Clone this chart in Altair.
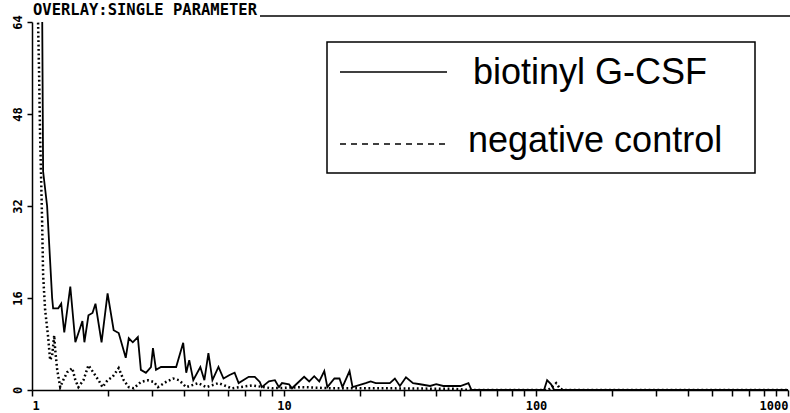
import altair as alt
import pandas as pd

# ---- data ----
solid_x = [1.086, 1.096, 1.107, 1.148, 1.202, 1.213, 1.271, 1.306, 1.343, 1.419,
           1.486, 1.585, 1.614, 1.675, 1.738, 1.786, 1.888, 1.995, 2.109, 2.208,
           2.355, 2.421, 2.512, 2.630, 2.704, 2.831, 2.965, 3.020, 3.105, 3.251,
           3.733, 3.981, 4.093, 4.207, 4.365, 4.656, 4.831, 5.012, 5.200, 5.495,
           5.754, 6.081, 6.368, 6.607, 7.244, 7.656, 8.017, 8.166, 8.710, 9.204,
           9.550, 9.817, 10.47, 10.76, 12.02, 12.59, 13.18, 13.80, 14.45, 14.86,
           15.85, 16.60, 17.06, 18.20, 18.71, 21.09, 22.08, 23.12, 24.66, 26.30,
           27.54, 28.84, 30.48, 32.51, 34.67, 38.02, 40.18, 42.85, 46.99, 50.12,
           53.95, 55.46, 107.6, 110.7, 114.8, 118.0, 1000]
solid_y = [70, 70, 38, 32, 16, 14.2, 14.2, 15, 10, 18,
           8.3, 12, 8.3, 13, 13.4, 15, 8.3, 16.8, 10.4, 9.9,
           5.6, 9, 8.3, 9.2, 3.5, 3, 4, 7.3, 3.5, 4,
           4, 8.2, 3, 5.2, 1.7, 4, 1.7, 6.4, 1.7, 4,
           2, 2.6, 3, 1.2, 2.3, 2.3, 1.4, 0.5, 1.5, 1.7,
           0.5, 1.2, 1, 0.3, 2.3, 1.5, 2.4, 1.5, 3.3, 0.5,
           2, 2, 0.5, 3.3, 0.5, 1.2, 1.5, 1.2, 1.2, 1.2,
           2, 0.7, 2.2, 1.2, 1, 0.7, 1, 0.7, 0.7, 0.7,
           1.2, 0, 0, 1.7, 1, 0, 0]

control_x = [1.038, 1.057, 1.067, 1.076, 1.096, 1.107, 1.127, 1.159, 1.180, 1.202,
             1.225, 1.236, 1.259, 1.294, 1.330, 1.380, 1.445, 1.486, 1.528, 1.600,
             1.675, 1.754, 1.837, 1.905, 1.995, 2.089, 2.208, 2.312, 2.421, 2.535,
             2.704, 2.884, 3.048, 3.162, 3.404, 3.631, 3.837, 4.093, 4.571, 4.920,
             5.495, 6.194, 7.447, 8.954, 11.80, 15.56, 24.66, 46.99, 55.0, 112.0,
             120.2, 124.7, 130.0, 1000]
control_y = [70, 64, 55, 45, 30, 20, 14, 9.2, 5.2, 6,
             9.5, 7, 3.5, 0.5, 1.7, 3.1, 3.8, 1.7, 0.5, 1.7,
             4.3, 3, 1.7, 0.5, 1.7, 2.3, 3.8, 1.7, 0.5, 0.3,
             1.4, 1.7, 1.4, 0.5, 1.4, 2, 1.7, 0.5, 1.2, 0.5,
             1.2, 0.3, 0.8, 0.3, 0.5, 0.3, 0.3, 0.2, 0, 0,
             1.2, 0.2, 0, 0]

x_ticks = [1, 2, 3, 4, 5, 6, 7, 8, 9, 10, 20, 30, 40, 50, 60, 70, 80, 90,
           100, 200, 300, 400, 500, 600, 700, 800, 900, 1000]
y_ticks = [0, 16, 32, 48, 64]
title_text = "OVERLAY:SINGLE PARAMETER"
legend_labels = ["biotinyl G-CSF", "negative control"]

solid_df = pd.DataFrame({"x": solid_x, "y": solid_y})
control_df = pd.DataFrame({"x": control_x, "y": control_y})

mono = "DejaVu Sans Mono"

xscale = alt.Scale(type="log", domain=[1, 1000], nice=False)
yscale = alt.Scale(domain=[0, 64], nice=False)

xaxis = alt.Axis(
    values=x_ticks, title=None, grid=False,
    labelExpr="(datum.value==1||datum.value==10||datum.value==100||datum.value==1000) ? format(datum.value,'d') : ''",
    labelFont=mono, labelFontWeight="bold", labelFontSize=12, labelColor="black",
    tickColor="black", tickSize=6, tickWidth=1.5, domainColor="black", domainWidth=1.5,
    labelPadding=4, labelFlush=True,
)
yaxis = alt.Axis(
    values=y_ticks, title=None, grid=False, labelAngle=270,
    labelFont=mono, labelFontWeight="bold", labelFontSize=12, labelColor="black",
    tickColor="black", tickSize=5, tickWidth=1.5, domainColor="black", domainWidth=1.5,
    labelPadding=3, labelFlush=True,
)

solid = alt.Chart(solid_df).mark_line(color="black", strokeWidth=1.8, clip=True).encode(
    x=alt.X("x:Q", scale=xscale, axis=xaxis),
    y=alt.Y("y:Q", scale=yscale, axis=yaxis),
)
control = alt.Chart(control_df).mark_line(
    color="black", strokeWidth=2.5, strokeDash=[1.8, 2.6], clip=True
).encode(
    x=alt.X("x:Q", scale=xscale),
    y=alt.Y("y:Q", scale=yscale),
)

one = pd.DataFrame({"k": [0]})

title = alt.Chart(pd.DataFrame({"t": [title_text]})).mark_text(
    font=mono, fontWeight="bold", fontSize=15.5, align="left", baseline="alphabetic", color="black"
).encode(text="t:N", x=alt.value(1), y=alt.value(-7))
underline = alt.Chart(one).mark_rule(color="black", strokeWidth=1.5).encode(
    x=alt.value(228), x2=alt.value(758), y=alt.value(-6)
)

box = alt.Chart(one).mark_rect(fill="white", stroke="black", strokeWidth=1.5).encode(
    x=alt.value(295), x2=alt.value(723), y=alt.value(20), y2=alt.value(151)
)
leg_solid = alt.Chart(one).mark_rule(color="black", strokeWidth=1.5).encode(
    x=alt.value(308), x2=alt.value(415), y=alt.value(50)
)
leg_dash = alt.Chart(one).mark_rule(color="black", strokeWidth=1.5, strokeDash=[6, 5]).encode(
    x=alt.value(308), x2=alt.value(415), y=alt.value(122)
)
leg_t1 = alt.Chart(pd.DataFrame({"t": [legend_labels[0]]})).mark_text(
    font="Liberation Sans", fontSize=36, align="left", baseline="alphabetic", color="black"
).encode(text="t:N", x=alt.value(441), y=alt.value(62))
leg_t2 = alt.Chart(pd.DataFrame({"t": [legend_labels[1]]})).mark_text(
    font="Liberation Sans", fontSize=36, align="left", baseline="alphabetic", color="black"
).encode(text="t:N", x=alt.value(436), y=alt.value(130))

chart = alt.layer(
    solid, control, box, leg_solid, leg_dash, leg_t1, leg_t2, title, underline
).properties(
    width=756, height=368,
    autosize=alt.AutoSizeParams(type="none"),
    padding={"left": 32, "top": 22, "right": 2, "bottom": 23},
    background="white",
).configure_view(stroke=None)

chart.save("out.html", embed_options={"renderer": "svg", "actions": False})
